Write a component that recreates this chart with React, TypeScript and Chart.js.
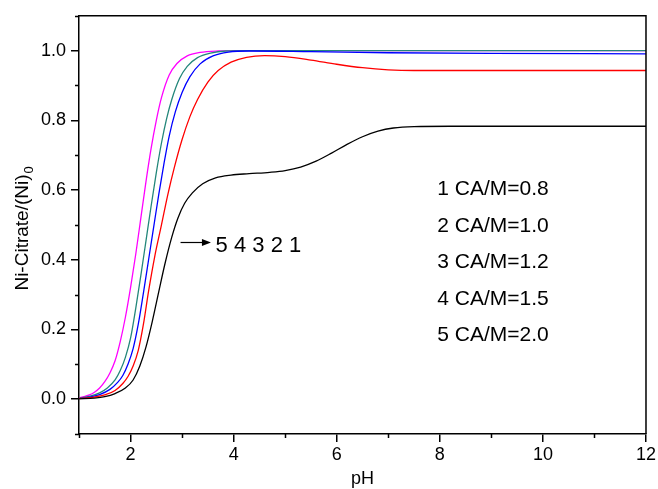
import React, { useEffect, useRef } from "react";
import { Chart, registerables } from "chart.js";

Chart.register(...registerables);

// ---- data (pH vs fraction Ni-Citrate / (Ni)0) ----
const ph1 = [1.0, 1.3, 1.5, 1.7, 1.9, 2.05, 2.18, 2.3, 2.42, 2.55, 2.67, 2.8, 2.92, 3.05, 3.2, 3.4, 3.65, 3.95, 4.3, 4.7, 5.0, 5.3, 5.6, 5.9, 6.2, 6.5, 6.8, 7.1, 7.5, 8.2, 12];
const v1 = [0.001, 0.003, 0.007, 0.016, 0.032, 0.055, 0.095, 0.15, 0.222, 0.31, 0.39, 0.465, 0.52, 0.562, 0.592, 0.618, 0.635, 0.643, 0.647, 0.651, 0.656, 0.666, 0.683, 0.706, 0.731, 0.753, 0.769, 0.778, 0.782, 0.783, 0.783];

const ph2 = [1.0, 1.3, 1.5, 1.7, 1.85, 1.95, 2.05, 2.15, 2.25, 2.35, 2.47, 2.6, 2.72, 2.85, 3.0, 3.15, 3.3, 3.5, 3.7, 3.95, 4.25, 4.6, 5.0, 5.5, 6.0, 6.5, 7.0, 7.5, 12];
const v2 = [0.002, 0.006, 0.012, 0.025, 0.045, 0.065, 0.095, 0.14, 0.215, 0.31, 0.41, 0.5, 0.585, 0.665, 0.745, 0.81, 0.86, 0.91, 0.943, 0.967, 0.981, 0.986, 0.983, 0.973, 0.961, 0.951, 0.945, 0.943, 0.943];

const ph3 = [1.0, 1.2, 1.4, 1.6, 1.75, 1.85, 1.95, 2.05, 2.15, 2.25, 2.35, 2.45, 2.55, 2.65, 2.75, 2.87, 3.0, 3.15, 3.35, 3.6, 3.9, 4.3, 5.5, 7.0, 9.0, 12];
const v3 = [0.002, 0.006, 0.013, 0.028, 0.048, 0.068, 0.1, 0.145, 0.215, 0.305, 0.4, 0.495, 0.59, 0.677, 0.755, 0.825, 0.88, 0.925, 0.962, 0.985, 0.996, 0.999, 0.997, 0.994, 0.992, 0.991];

const ph4 = [1.0, 1.2, 1.4, 1.55, 1.7, 1.8, 1.9, 2.0, 2.1, 2.2, 2.3, 2.4, 2.5, 2.6, 2.7, 2.8, 2.95, 3.1, 3.3, 3.55, 3.85, 4.3, 12];
const v4 = [0.003, 0.008, 0.018, 0.032, 0.055, 0.082, 0.12, 0.175, 0.26, 0.355, 0.455, 0.555, 0.65, 0.735, 0.805, 0.86, 0.92, 0.955, 0.98, 0.993, 0.999, 1.0, 1.0];

const ph5 = [1.0, 1.1, 1.2, 1.3, 1.4, 1.5, 1.6, 1.7, 1.8, 1.9, 2.0, 2.1, 2.2, 2.3, 2.4, 2.5, 2.6, 2.75, 2.9, 3.1, 3.35, 3.7, 4.2, 12];
const v5 = [0.004, 0.007, 0.012, 0.02, 0.032, 0.05, 0.075, 0.11, 0.165, 0.235, 0.32, 0.415, 0.52, 0.625, 0.72, 0.8, 0.865, 0.93, 0.963, 0.985, 0.995, 0.999, 1.0, 1.0];

const seriesNames = ["1 CA/M=0.8", "2 CA/M=1.0", "3 CA/M=1.2", "4 CA/M=1.5", "5 CA/M=2.0"];
const seriesColors = ["#000000", "#ff0000", "#0000ff", "#23877a", "#ff00ff"];
const curveOrder = "5 4 3 2 1";
const xTitle = "pH";
const yTitleMain = "Ni-Citrate/(Ni)";
const yTitleSub = "0";
const xMajorTicks = [2, 4, 6, 8, 10, 12];
const yMajorTicks = [0, 0.2, 0.4, 0.6, 0.8, 1.0];

const FONT = "'Liberation Sans', Arial, Helvetica, sans-serif";

const isMajorX = (v: number) => xMajorTicks.some((m) => Math.abs(m - v) < 1e-6);
const isMajorY = (v: number) => yMajorTicks.some((m) => Math.abs(m - v) < 1e-6);

const overlay = {
  id: "overlay",
  afterDraw(chart: any) {
    const { ctx, chartArea: a } = chart;
    const x = chart.scales.x;
    const y = chart.scales.y;
    ctx.save();
    ctx.strokeStyle = "#000";
    ctx.fillStyle = "#000";
    ctx.lineWidth = 1.5;
    // top and right frame
    ctx.beginPath();
    ctx.moveTo(a.left, a.top);
    ctx.lineTo(a.right, a.top);
    ctx.lineTo(a.right, a.bottom);
    ctx.stroke();
    // minor ticks
    ctx.beginPath();
    x.ticks.forEach((t: any) => {
      if (!isMajorX(t.value)) {
        const px = Math.round(x.getPixelForValue(t.value)) + 0.5;
        ctx.moveTo(px, a.bottom);
        ctx.lineTo(px, a.bottom + 4);
      }
    });
    y.ticks.forEach((t: any) => {
      if (!isMajorY(t.value)) {
        const py = Math.round(y.getPixelForValue(t.value)) + 0.5;
        ctx.moveTo(a.left - 4, py);
        ctx.lineTo(a.left, py);
      }
    });
    ctx.stroke();

    // x title
    ctx.font = `18px ${FONT}`;
    ctx.textAlign = "center";
    ctx.textBaseline = "alphabetic";
    ctx.fillText(xTitle, (a.left + a.right) / 2, a.bottom + 50);

    // y title (rotated, with subscript)
    ctx.save();
    ctx.translate(28, (a.top + a.bottom) / 2 + 4);
    ctx.rotate(-Math.PI / 2);
    ctx.font = `19px ${FONT}`;
    const wMain = ctx.measureText(yTitleMain).width;
    ctx.font = `13px ${FONT}`;
    const wSub = ctx.measureText(yTitleSub).width;
    const start = -(wMain + wSub) / 2;
    ctx.textAlign = "left";
    ctx.font = `19px ${FONT}`;
    ctx.fillText(yTitleMain, start, 0);
    ctx.font = `13px ${FONT}`;
    ctx.fillText(yTitleSub, start + wMain + 1, 5);
    ctx.restore();

    // arrow + curve order
    const ay = Math.round(y.getPixelForValue(0.452)) + 0.5;
    const ax0 = x.getPixelForValue(2.97);
    const ax1 = x.getPixelForValue(3.56);
    ctx.lineWidth = 1.2;
    ctx.beginPath();
    ctx.moveTo(ax0, ay);
    ctx.lineTo(ax1 - 6, ay);
    ctx.stroke();
    ctx.beginPath();
    ctx.moveTo(ax1, ay);
    ctx.lineTo(ax1 - 9, ay - 3.5);
    ctx.lineTo(ax1 - 9, ay + 3.5);
    ctx.closePath();
    ctx.fill();

    ctx.textAlign = "left";
    ctx.font = `22px ${FONT}`;
    ctx.fillText(curveOrder, x.getPixelForValue(3.65), y.getPixelForValue(0.445) + 8);

    // legend text
    ctx.font = `21px ${FONT}`;
    const legendVals = [0.607, 0.502, 0.397, 0.292, 0.188];
    seriesNames.forEach((s, i) => {
      ctx.fillText(s, x.getPixelForValue(7.95), y.getPixelForValue(legendVals[i]) + 7.5);
    });
    ctx.restore();
  },
};

function pts(xs: number[], ys: number[]) {
  return xs.map((v, i) => ({ x: v, y: ys[i] }));
}

export default function App() {
  const ref = useRef<HTMLCanvasElement | null>(null);
  useEffect(() => {
    if (!ref.current) return;
    const all = [
      pts(ph1, v1),
      pts(ph2, v2),
      pts(ph3, v3),
      pts(ph4, v4),
      pts(ph5, v5),
    ];
    const chart = new Chart(ref.current, {
      type: "line",
      data: {
        datasets: all.map((d, i) => ({
          label: seriesNames[i],
          data: d,
          borderColor: seriesColors[i],
          backgroundColor: seriesColors[i],
          borderWidth: 1.3,
          pointRadius: 0,
          cubicInterpolationMode: "monotone" as const,
          fill: false,
        })),
      },
      options: {
        responsive: false,
        animation: false,
        events: [],
        layout: { padding: { top: 14, right: 11, left: 0, bottom: 0 }, autoPadding: false },
        plugins: { legend: { display: false }, tooltip: { enabled: false } },
        scales: {
          x: {
            type: "linear",
            min: 1,
            max: 12,
            afterFit: (s: any) => {
              s.height = 55;
            },
            border: { display: true, color: "#000", width: 1.5 },
            grid: {
              drawOnChartArea: false,
              drawTicks: true,
              tickLength: 8,
              lineWidth: 1.5,
              tickColor: (c: any) => (c.tick && isMajorX(c.tick.value) ? "#000" : "rgba(0,0,0,0)"),
            },
            ticks: {
              stepSize: 1,
              autoSkip: false,
              maxRotation: 0,
              padding: 2,
              color: "#000",
              font: { family: FONT, size: 18 },
              callback: (v: any) => (isMajorX(Number(v)) ? String(Math.round(Number(v))) : ""),
            },
          },
          y: {
            type: "linear",
            min: -0.1,
            max: 1.1,
            afterFit: (s: any) => {
              s.width = 79;
            },
            border: { display: true, color: "#000", width: 1.5 },
            grid: {
              drawOnChartArea: false,
              drawTicks: true,
              tickLength: 8,
              lineWidth: 1.5,
              tickColor: (c: any) => (c.tick && isMajorY(c.tick.value) ? "#000" : "rgba(0,0,0,0)"),
            },
            ticks: {
              stepSize: 0.1,
              autoSkip: false,
              padding: 5,
              color: "#000",
              font: { family: FONT, size: 18 },
              callback: (v: any) => (isMajorY(Number(v)) ? Number(v).toFixed(1) : ""),
            },
          },
        },
      },
      plugins: [overlay],
    });
    return () => chart.destroy();
  }, []);
  return (
    <div style={{ position: "fixed", left: 0, top: 0, width: 658, height: 489, background: "#fff" }}>
      <canvas ref={ref} width={658} height={489} style={{ width: 658, height: 489, display: "block" }} />
    </div>
  );
}
